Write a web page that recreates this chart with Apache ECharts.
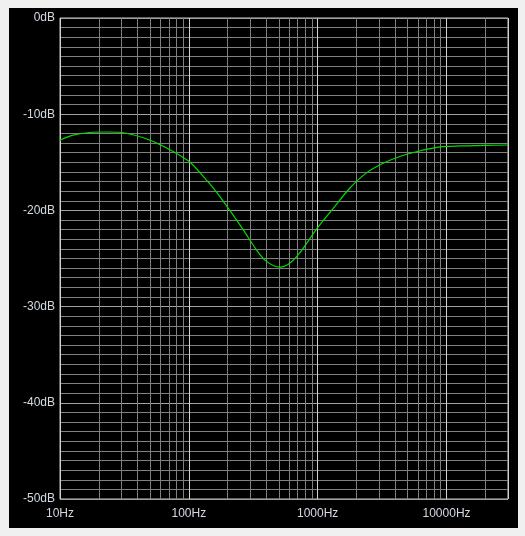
<!DOCTYPE html>
<html>
<head>
<meta charset="utf-8">
<script src="https://cdn.jsdelivr.net/npm/echarts@6/dist/echarts.min.js"></script>
<style>
  html, body {
    margin: 0;
    padding: 0;
    width: 525px;
    height: 536px;
    background: #f0f0f0;
    overflow: hidden;
  }
  #chart {
    position: absolute;
    left: 9px;
    top: 8px;
    width: 509px;
    height: 520px;
    background: #000;
  }
</style>
</head>
<body>
<div id="chart"></div>
<script>
// frequency response
const freqs = [10, 12.4, 17, 23, 30, 45.6, 65, 100, 134, 164, 208, 264, 335, 400, 509, 607, 728, 980, 1320, 1772, 2390, 3220, 4340, 5840, 8880, 12700, 20000, 30000]
const gains = [-12.7, -12.2, -11.9, -11.85, -11.9, -12.5, -13.4, -14.9, -16.7, -18.1, -20.0, -22.0, -24.1, -25.3, -25.9, -25.5, -24.4, -21.95, -19.8, -17.7, -16.1, -15.1, -14.4, -13.9, -13.4, -13.3, -13.25, -13.2]

// vertical minor grid lines (2..9 in each decade)
const minorFreqs = []
for (let d = 10; d <= 10000; d *= 10) {
  for (let k = 2; k <= 9; k++) {
    if (d * k < 30000) minorFreqs.push(d * k)
  }
}

const chart = echarts.init(document.getElementById('chart'))

const labelFont = {
  color: '#d4dae4',
  fontFamily: 'Liberation Sans',
  fontSize: 12
}

const option = {
  animation: false,
  backgroundColor: '#000',
  grid: {
    left: 51,
    top: 10,
    right: 10,
    bottom: 29,
    show: true,
    borderColor: '#c8c8c8',
    borderWidth: 1
  },
  xAxis: {
    type: 'log',
    logBase: 10,
    min: 10,
    max: 30000,
    axisLine: { show: false },
    axisTick: { show: false },
    axisLabel: {
      ...labelFont,
      margin: 9,
      showMaxLabel: false,
      formatter: (v) => v + 'Hz'
    },
    splitLine: {
      show: true,
      lineStyle: { color: '#d0d0d0', width: 1 }
    }
  },
  yAxis: {
    type: 'value',
    min: -50,
    max: 0,
    interval: 10,
    axisLine: { show: false },
    axisTick: { show: false },
    axisLabel: {
      ...labelFont,
      margin: 5,
      formatter: (v) => v + 'dB'
    },
    splitLine: {
      show: true,
      lineStyle: { color: '#a0a0a0', width: 1 }
    },
    minorTick: { show: false, splitNumber: 10 },
    minorSplitLine: {
      show: true,
      lineStyle: { color: '#808080', width: 1 }
    }
  },
  series: [
    {
      // helper series, only carries the log grid lines
      type: 'line',
      data: [],
      z: 1,
      silent: true,
      markLine: {
        silent: true,
        symbol: 'none',
        animation: false,
        label: { show: false },
        lineStyle: { color: '#808080', type: 'solid', width: 1 },
        data: minorFreqs.map((f) => ({ xAxis: f }))
      }
    },
    {
      name: 'response',
      type: 'line',
      z: 5,
      smooth: 0.3,
      showSymbol: false,
      lineStyle: { color: '#00dd00', width: 1.2 },
      data: freqs.map((f, i) => [f, gains[i]])
    }
  ]
}

chart.setOption(option)
</script>
</body>
</html>
